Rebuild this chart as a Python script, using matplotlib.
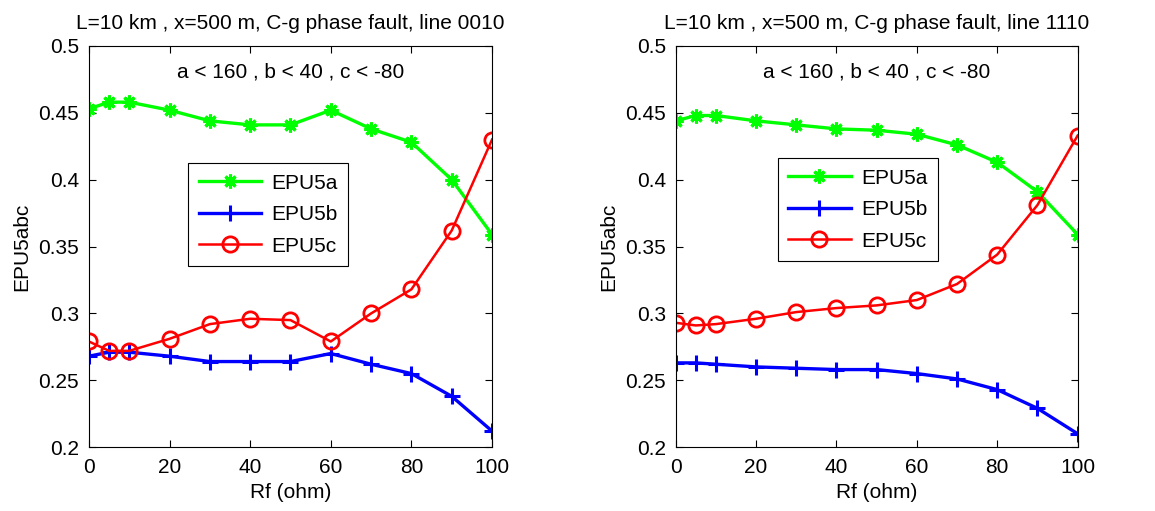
import matplotlib
matplotlib.use("Agg")
import matplotlib.pyplot as plt

plt.rcParams['font.family'] = ['Liberation Sans', 'DejaVu Sans']
plt.rcParams['font.size'] = 15

rf = [0, 5, 10, 20, 30, 40, 50, 60, 70, 80, 90, 100]

# line 0010
a_0010 = [0.453, 0.458, 0.458, 0.452, 0.444, 0.441, 0.441, 0.452, 0.438, 0.428, 0.400, 0.359]
b_0010 = [0.268, 0.271, 0.271, 0.268, 0.264, 0.264, 0.264, 0.270, 0.262, 0.255, 0.238, 0.212]
c_0010 = [0.279, 0.272, 0.272, 0.281, 0.292, 0.296, 0.295, 0.279, 0.300, 0.318, 0.362, 0.430]

# line 1110
a_1110 = [0.444, 0.448, 0.448, 0.444, 0.441, 0.438, 0.437, 0.434, 0.426, 0.413, 0.391, 0.359]
b_1110 = [0.263, 0.263, 0.262, 0.260, 0.259, 0.258, 0.258, 0.255, 0.251, 0.243, 0.229, 0.210]
c_1110 = [0.293, 0.291, 0.292, 0.296, 0.301, 0.304, 0.306, 0.310, 0.322, 0.344, 0.381, 0.433]

titles = ['L=10 km , x=500 m, C-g phase fault, line 0010',
          'L=10 km , x=500 m, C-g phase fault, line 1110']
note = 'a < 160 , b < 40 , c < -80'

fig = plt.figure(figsize=(11.55, 5.11), dpi=100)
ax1 = fig.add_axes([0.077, 0.125, 0.349, 0.785])
ax2 = fig.add_axes([0.585, 0.125, 0.348, 0.785])

panels = [(ax1, a_0010, b_0010, c_0010, titles[0], (0.246, 0.708)),
          (ax2, a_1110, b_1110, c_1110, titles[1], (0.254, 0.72))]

for ax, a, b, c, title, leg_pos in panels:
    ax.plot(rf, a, '-', color=(0, 1, 0), lw=2.4, marker=(8, 2, 0), ms=10, mew=2.2, label='EPU5a')
    ax.plot(rf, b, '-', color=(0, 0, 1), lw=2.4, marker='+', ms=11, mew=2.2, label='EPU5b')
    ax.plot(rf, c, '-', color=(1, 0, 0), lw=1.8, marker='o', ms=11, mew=2,
            mfc='none', label='EPU5c')
    ax.set_xlim(0, 100)
    ax.set_ylim(0.2, 0.5)
    ax.set_xticks([0, 20, 40, 60, 80, 100])
    ax.set_yticks([0.2, 0.25, 0.3, 0.35, 0.4, 0.45, 0.5])
    ax.set_yticklabels(['0.2', '0.25', '0.3', '0.35', '0.4', '0.45', '0.5'])
    ax.tick_params(direction='in', top=True, right=True, length=5, width=0.8)
    ax.tick_params(axis='x', pad=8)
    ax.tick_params(axis='y', pad=7)
    ax.set_xlabel('Rf (ohm)', labelpad=4)
    ax.set_ylabel('EPU5abc', labelpad=5)
    ax.set_title(title, fontsize=15, pad=12)
    ax.text(0.5, 0.935, note, transform=ax.transAxes, ha='center', va='center')
    leg = ax.legend(loc='upper left', bbox_to_anchor=leg_pos, fancybox=False,
                    edgecolor='black', framealpha=1, handlelength=3.0,
                    handletextpad=0.5, borderpad=0.5, labelspacing=0.6,
                    borderaxespad=0)
    leg.get_frame().set_linewidth(0.8)

fig.savefig('out.png', dpi=100)
